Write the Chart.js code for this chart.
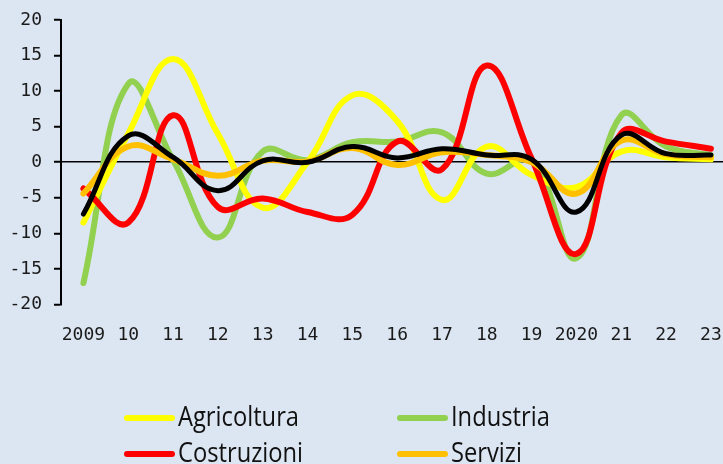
<!DOCTYPE html>
<html>
<head>
<meta charset="utf-8">
<script src="https://cdn.jsdelivr.net/npm/chart.js@4/dist/chart.umd.min.js"></script>
<style>
  html, body { margin: 0; padding: 0; background: #dce6f2; }
  #wrap { position: relative; width: 723px; height: 464px; background: #dce6f2; overflow: hidden; }
  #legend { position: absolute; left: 0; top: 0; width: 723px; height: 464px; pointer-events: none;
            font-family: "Open Sans", sans-serif; font-size: 28px; color: #111; }
  .item { position: absolute; height: 34px; line-height: 34px; white-space: nowrap; }
  .swatch { display: inline-block; width: 51px; height: 6px; border-radius: 3px; vertical-align: middle; margin-right: 3px; position: relative; top: -1px; }
  .txt { display: inline-block; transform-origin: 0 50%; }
</style>
</head>
<body>
<div id="wrap">
  <canvas id="chart" width="723" height="464"></canvas>
  <div id="legend"></div>
</div>
<script>
// anni
const years = ["2009", "10", "11", "12", "13", "14", "15", "16", "17", "18", "19", "2020", "21", "22", "23"];

// serie
const agricoltura = [-8.5, 4, 14.5, 4, -6.4, 0, 9.4, 5.8, -5.3, 2.2, -1.8, -3.5, 1.5, 0.7, 0.4];
const industria   = [-17, 11, 0.3, -10.6, 1.5, 0.3, 2.8, 2.9, 4.2, -1.6, 0.2, -13.5, 6.6, 2.2, 1];
const costruzioni = [-3.7, -8.5, 6.6, -6.3, -5.1, -7, -7.4, 2.9, -1, 13.6, 0.5, -12.9, 4.1, 2.9, 1.9];
const servizi     = [-4.4, 2.2, 0.4, -1.9, 0.2, 0.1, 2, -0.4, 1.4, 1, 0, -4.4, 3, 1.1, 0.7];
const totale      = [-7.3, 3.7, 0.7, -4, 0.2, 0, 2.2, 0.6, 1.9, 1, 0.4, -7, 3.8, 1.2, 1];

const yTicks = [-20, -15, -10, -5, 0, 5, 10, 15, 20];

function pts(arr) {
    return arr.map((v, i) => ({ x: i, y: v }));
}

function series(label, data, color, width, order, inLegend) {
    return {
        label: label,
        data: pts(data),
        borderColor: color,
        backgroundColor: color,
        borderWidth: width,
        pointRadius: 0,
        tension: 0.42,
        borderCapStyle: "round",
        borderJoinStyle: "round",
        fill: false,
        order: order,
        inLegend: inLegend
    };
}

const datasets = [
    series("Agricoltura", agricoltura, "#ffff00", 6, 3, true),
    series("Industria", industria, "#92d050", 6, 4, true),
    series("Costruzioni", costruzioni, "#ff0000", 6, 2, true),
    series("Servizi", servizi, "#ffc000", 6, 1, true),
    series("Totale", totale, "#000000", 5, 0, false)
];

const tickFont = { family: "'DejaVu Sans Mono', monospace", size: 18 };

const chart = new Chart(document.getElementById("chart"), {
    type: "line",
    data: { datasets: datasets },
    options: {
        responsive: false,
        animation: false,
        layout: { padding: { left: 0, right: 0, top: 20, bottom: 98 } },
        plugins: {
            legend: { display: false },
            tooltip: { enabled: false }
        },
        scales: {
            x: {
                type: "linear",
                min: -0.5,
                max: 14.27,
                afterBuildTicks: axis => { axis.ticks = years.map((_, i) => ({ value: i })); },
                afterFit: axis => { axis.paddingLeft = 0; axis.paddingRight = 0; },
                ticks: {
                    callback: v => years[v],
                    font: tickFont,
                    color: "#1a1a1a",
                    padding: 20,
                    maxRotation: 0,
                    autoSkip: false
                },
                grid: { display: false, drawTicks: false },
                border: { display: false }
            },
            y: {
                min: -20,
                max: 20,
                afterBuildTicks: axis => { axis.ticks = yTicks.map(v => ({ value: v })); },
                afterFit: axis => { axis.width = 61; axis.paddingTop = 0; axis.paddingBottom = 0; },
                ticks: { font: tickFont, color: "#1a1a1a", padding: 12 },
                grid: {
                    color: c => (c.tick && c.tick.value === 0 ? "#000000" : "rgba(0,0,0,0)"),
                    lineWidth: 1.5,
                    tickColor: "#000000",
                    tickLength: 7,
                    tickWidth: 2
                },
                border: { display: true, color: "#000000", width: 2 }
            }
        }
    }
});

// legenda a due colonne
const legendPos = [
    { left: 124, top: 398 },
    { left: 397, top: 398 },
    { left: 124, top: 434 },
    { left: 397, top: 434 }
];
const legendEl = document.getElementById("legend");
const texts = [];
datasets.filter(d => d.inLegend).forEach((d, i) => {
    const item = document.createElement("div");
    item.className = "item";
    item.style.left = legendPos[i].left + "px";
    item.style.top = legendPos[i].top + "px";
    const sw = document.createElement("span");
    sw.className = "swatch";
    sw.style.background = d.borderColor;
    item.appendChild(sw);
    const t = document.createElement("span");
    t.className = "txt";
    t.textContent = d.label;
    item.appendChild(t);
    legendEl.appendChild(item);
    texts.push(t);
});
// stringe il testo come nel riferimento (Agricoltura ~121px)
const k = 121 / texts[0].getBoundingClientRect().width;
texts.forEach(t => { t.style.transform = "scaleX(" + k + ")"; });
</script>
</body>
</html>
